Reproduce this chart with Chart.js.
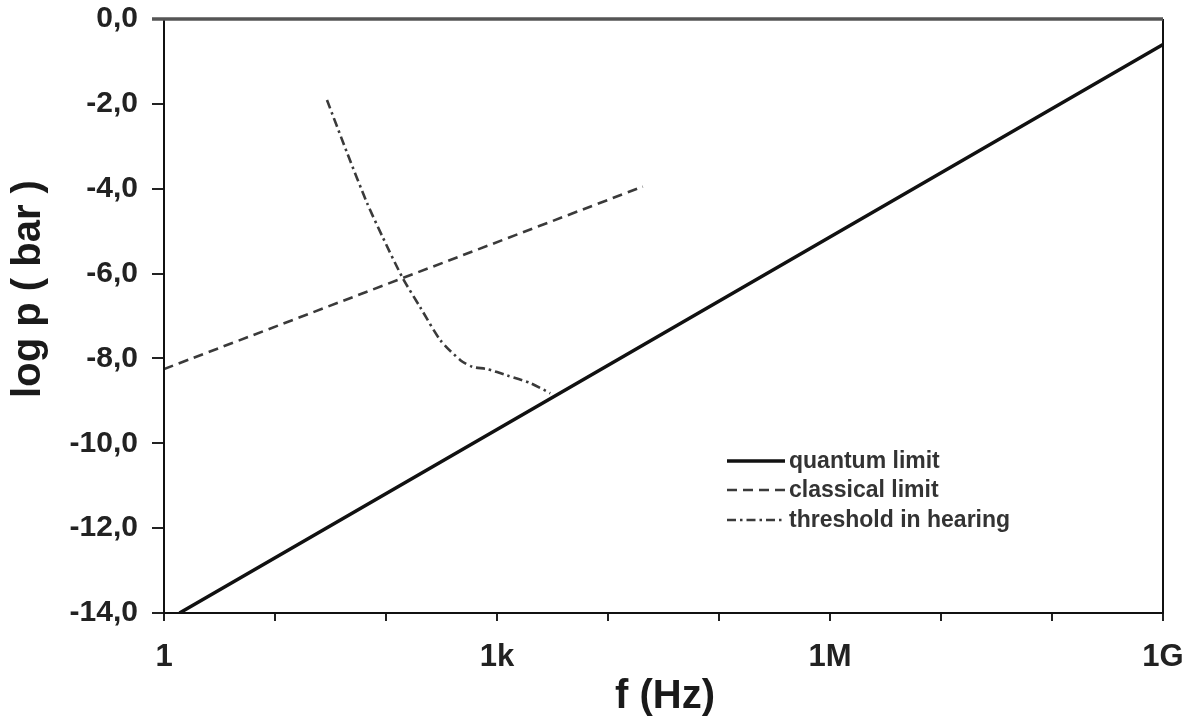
<!DOCTYPE html>
<html>
<head>
<meta charset="utf-8">
<script src="https://cdn.jsdelivr.net/npm/chart.js@4"></script>
<style>
  html, body { margin: 0; padding: 0; background: #fff; }
  #wrap { width: 1191px; height: 722px; position: relative; }
</style>
</head>
<body>
<div id="wrap"><canvas id="c"></canvas></div>
<script>
// ---- data ----
const quantumF = [1.38, 1e9];
const quantumP = [-14.0, -0.6];

const classicalF = [1, 20600];
const classicalP = [-8.25, -3.95];

const thresholdF = [29.4, 44.7, 67.6, 93.3, 141, 204, 309, 468, 603, 813, 1230, 1995, 3020];
const thresholdP = [-1.91, -3.16, -4.34, -5.14, -6.1, -6.8, -7.57, -8.04, -8.2, -8.25, -8.4, -8.58, -8.82];

const xTickValues = [1, 10, 100, 1e3, 1e4, 1e5, 1e6, 1e7, 1e8, 1e9];
const xTickLabels = {1: '1', 1000: '1k', 1000000: '1M', 1000000000: '1G'};
const yTickValues = [0, -2, -4, -6, -8, -10, -12, -14];

const seriesNames = ['quantum limit', 'classical limit', 'threshold in hearing'];

function pts(xs, ys) { return xs.map((x, i) => ({x: x, y: ys[i]})); }

const FONT = '"Liberation Sans", Arial, sans-serif';

const styles = [
  {color: '#111', width: 3.5, dash: []},
  {color: '#3a3a3a', width: 2.6, dash: [10, 6]},
  {color: '#3a3a3a', width: 2.6, dash: [9, 4, 2.5, 4]}
];

const frameAndLegend = {
  id: 'frameAndLegend',
  afterDatasetsDraw(chart) {
    const {ctx, chartArea: a} = chart;
    ctx.save();
    // frame
    ctx.strokeStyle = '#111';
    ctx.lineWidth = 2;
    ctx.beginPath();
    ctx.moveTo(a.left, a.top); ctx.lineTo(a.left, a.bottom);
    ctx.lineTo(a.right, a.bottom); ctx.lineTo(a.right, a.top);
    ctx.stroke();
    ctx.strokeStyle = '#555';
    ctx.lineWidth = 3.5;
    ctx.beginPath();
    ctx.moveTo(a.left - 12, a.top); ctx.lineTo(a.right, a.top);
    ctx.stroke();

    // legend
    const lx0 = 727, lx1 = 785, tx = 789;
    const rows = [461, 490, 520];
    ctx.font = 'bold 23px ' + FONT;
    ctx.textBaseline = 'middle';
    ctx.textAlign = 'left';
    chart.data.datasets.forEach((ds, i) => {
      const s = styles[i];
      ctx.strokeStyle = s.color;
      ctx.lineWidth = s.width;
      ctx.setLineDash(s.dash);
      ctx.beginPath();
      ctx.moveTo(lx0, rows[i]); ctx.lineTo(lx1, rows[i]);
      ctx.stroke();
      ctx.setLineDash([]);
      ctx.fillStyle = '#333';
      ctx.fillText(ds.label, tx, rows[i] + 1);
    });

    // axis titles
    ctx.fillStyle = '#1a1a1a';
    ctx.font = 'bold 40px ' + FONT;
    ctx.textAlign = 'center';
    ctx.textBaseline = 'middle';
    ctx.fillText('f (Hz)', 665, 697);
    ctx.save();
    ctx.translate(29, 289);
    ctx.rotate(-Math.PI / 2);
    ctx.fillText('log p ( bar )', 0, 0);
    ctx.restore();
    ctx.restore();
  }
};

new Chart(document.getElementById('c'), {
  type: 'scatter',
  data: {
    datasets: [
      {label: seriesNames[0], data: pts(quantumF, quantumP)},
      {label: seriesNames[1], data: pts(classicalF, classicalP)},
      {label: seriesNames[2], data: pts(thresholdF, thresholdP)}
    ].map((d, i) => Object.assign(d, {
      showLine: true,
      pointRadius: 0,
      borderColor: styles[i].color,
      borderWidth: styles[i].width,
      borderDash: styles[i].dash,
      tension: 0.25,
      fill: false
    }))
  },
  options: {
    responsive: true,
    maintainAspectRatio: false,
    animation: false,
    layout: {padding: {top: 19, right: 28, left: 0, bottom: 0}},
    plugins: {legend: {display: false}, tooltip: {enabled: false}},
    scales: {
      x: {
        type: 'logarithmic',
        min: 1, max: 1e9,
        afterBuildTicks(scale) { scale.ticks = xTickValues.map(v => ({value: v})); },
        afterFit(scale) { scale.height = 109; scale.paddingLeft = 0; scale.paddingRight = 0; },
        grid: {display: true, drawOnChartArea: false, drawTicks: true, tickLength: 8, color: '#222', lineWidth: 2},
        border: {display: false},
        ticks: {
          autoSkip: false, maxRotation: 0,
          padding: 18,
          color: '#222',
          font: {family: FONT, size: 31, weight: 'bold'},
          callback: (v) => xTickLabels[v] !== undefined ? xTickLabels[v] : ''
        }
      },
      y: {
        type: 'linear',
        min: -14, max: 0,
        afterBuildTicks(scale) { scale.ticks = yTickValues.map(v => ({value: v})); },
        afterFit(scale) { scale.width = 164; scale.paddingTop = 0; scale.paddingBottom = 0; },
        grid: {display: true, drawOnChartArea: false, drawTicks: true, tickLength: 12, color: '#222', lineWidth: 2},
        border: {display: false},
        ticks: {
          padding: 14,
          color: '#222',
          font: {family: FONT, size: 30, weight: 'bold'},
          callback: (v) => v.toFixed(1).replace('.', ',')
        }
      }
    }
  },
  plugins: [frameAndLegend]
});
</script>
</body>
</html>
